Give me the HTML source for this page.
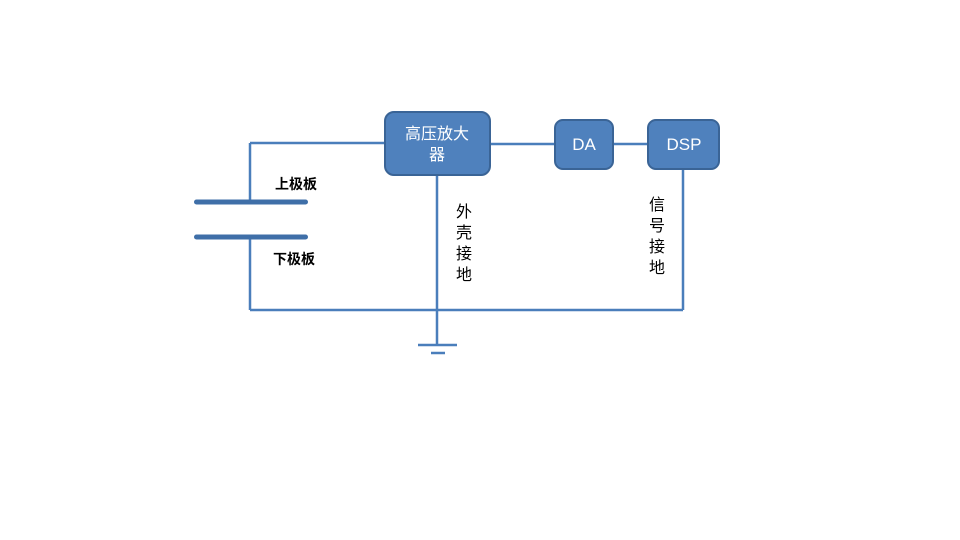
<!DOCTYPE html>
<html><head><meta charset="utf-8"><style>
html,body{margin:0;padding:0;background:#fff;}
svg{display:block}
</style></head><body>
<svg width="960" height="540" xmlns="http://www.w3.org/2000/svg" font-family="Liberation Sans, Noto Sans CJK SC, sans-serif">
<g stroke="#4a7ebb" stroke-width="2.5" fill="none">
<line x1="250" y1="143" x2="386" y2="143"/>
<line x1="250" y1="143" x2="250" y2="202"/>
<line x1="250" y1="237" x2="250" y2="310"/>
<line x1="250" y1="310" x2="683" y2="310"/>
<line x1="683" y1="169" x2="683" y2="310"/>
<line x1="437" y1="175" x2="437" y2="345"/>
<line x1="490" y1="144" x2="556" y2="144"/>
<line x1="613" y1="144" x2="649" y2="144"/>
<line x1="418" y1="345" x2="457" y2="345"/>
<line x1="431" y1="353" x2="445" y2="353"/>
</g>
<rect x="194" y="199.5" width="114" height="5" rx="2.5" fill="#3f6fa8"/>
<rect x="194" y="234.5" width="114" height="5" rx="2.5" fill="#3f6fa8"/>
<g fill="#4f81bd" stroke="#3a6496" stroke-width="2">
<rect x="385" y="112" width="105" height="63" rx="9"/>
<rect x="555" y="120" width="58" height="49" rx="8"/>
<rect x="648" y="120" width="71" height="49" rx="8"/>
</g>
<g fill="#fff" font-size="16" text-anchor="middle">
<text x="437" y="139">高压放大</text>
<text x="437" y="160">器</text>
<text x="584" y="150" font-size="17">DA</text>
<text x="684" y="150" font-size="17">DSP</text>
</g>
<g fill="#000" font-size="14" font-weight="bold">
<text x="275" y="189">上极板</text>
<text x="273" y="264">下极板</text>
</g>
<g fill="#000" font-size="16" text-anchor="middle">
<text x="464" y="217">外</text>
<text x="464" y="238">壳</text>
<text x="464" y="259">接</text>
<text x="464" y="280">地</text>
<text x="657" y="210">信</text>
<text x="657" y="231">号</text>
<text x="657" y="252">接</text>
<text x="657" y="273">地</text>
</g>
</svg>
</body></html>
